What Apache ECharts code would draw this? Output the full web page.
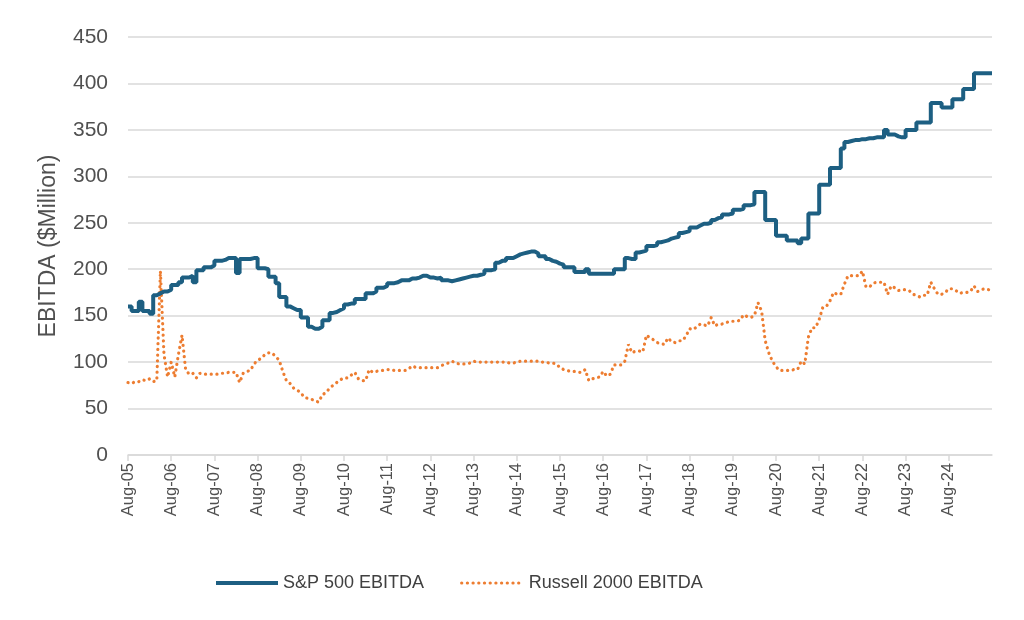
<!DOCTYPE html>
<html>
<head>
<meta charset="utf-8">
<script src="https://cdn.jsdelivr.net/npm/echarts@6/dist/echarts.min.js"></script>
<style>html,body{margin:0;padding:0;background:#fff}#c{width:1024px;height:620px}</style>
</head>
<body>
<div id="c"></div>
<script>
// Monthly categories Aug-05 .. Aug-25
const monthNames = ['Jan','Feb','Mar','Apr','May','Jun','Jul','Aug','Sep','Oct','Nov','Dec'];
const categories = [];
for (let i = 0; i <= 240; i++) {
  const mi = (7 + i) % 12;
  const yy = 5 + Math.floor((7 + i) / 12);
  categories.push(monthNames[mi] + '-' + String(yy).padStart(2, '0'));
}

const sp500 = [
  160,155,155,165,155,155,152,172,174,176,176,178,
  183,183,186,191,191,193,186,199,199,202,202,204,
  209,209,210,212,212,212,196,211,211,211,212,212,
  201,201,200,192,192,185,170,170,160,158,156,156,
  148,148,138,136,136,138,145,145,153,154,156,158,
  162,163,163,168,168,168,174,174,176,180,180,182,
  185,185,186,188,188,188,190,190,191,193,193,191,
  191,190,191,188,188,187,188,189,190,191,192,193,
  193,194,195,199,199,200,207,209,209,212,212,214,
  216,217,218,219,219,217,214,214,211,209,208,206,
  205,202,202,202,197,197,197,200,195,195,195,195,
  195,195,195,200,200,200,212,211,211,218,219,220,
  225,225,226,229,230,231,233,234,235,239,240,241,
  245,245,247,249,249,250,253,255,256,259,259,260,
  264,264,265,269,269,270,283,283,283,253,253,253,
  236,236,236,231,231,231,228,233,233,260,260,260,
  291,291,291,309,309,309,330,337,338,339,339,340,
  340,341,341,342,342,342,350,345,345,343,342,342,
  350,350,350,358,358,358,358,379,379,379,374,374,
  374,383,383,383,394,394,394,411,411,411,411,411,
  411
];

const russell2000 = [
  78,77,79,79,81,80,82,79,80,198,108,84,
  100,84,108,129,92,87,88,83,88,87,87,87,
  87,87,88,88,89,89,89,78,88,90,91,98,
  102,104,108,110,110,106,102,90,80,77,72,70,
  67,62,61,60,58,57,65,67,72,75,78,81,
  83,83,86,89,82,80,80,92,89,90,91,91,
  92,92,91,91,91,91,93,96,94,94,94,94,
  94,94,94,96,98,99,101,99,98,98,98,99,
  101,100,100,100,100,100,100,100,100,100,99,99,
  100,101,101,101,101,101,101,100,100,99,99,98,
  94,92,91,90,90,89,89,92,80,82,83,84,
  90,85,87,97,97,97,101,119,110,112,112,111,
  129,126,124,121,120,119,126,122,121,123,123,128,
  136,135,138,141,140,139,148,139,141,141,142,144,
  144,144,145,151,149,148,150,164,155,123,110,101,
  95,91,91,91,91,92,92,101,98,127,137,137,
  146,159,160,166,175,173,173,184,193,193,193,193,
  198,181,181,185,186,186,186,173,182,180,177,178,
  178,177,173,172,170,172,172,186,179,173,173,175,
  179,179,177,174,175,175,176,182,176,178,179,178,
  177
];

const seriesNames = ['S&P 500 EBITDA', 'Russell 2000 EBITDA'];
const yTicks = { min: 0, max: 450, interval: 50 };
const FONT = '"Liberation Sans", Arial, sans-serif';
const yearTick = (i) => i % 12 === 0 && i < 240;

const chart = echarts.init(document.getElementById('c'), null, { renderer: 'canvas' });
chart.setOption({
  animation: false,
  backgroundColor: '#ffffff',
  textStyle: { fontFamily: FONT },
  grid: { left: 128, right: 32, top: 37, bottom: 165 },
  legend: {
    left: 209, top: 569,
    itemWidth: 62, itemHeight: 14, itemGap: 36,
    itemStyle: { opacity: 0 },
    textStyle: { fontSize: 18, color: '#404040', fontFamily: FONT },
    data: [
      { name: seriesNames[0], lineStyle: { width: 4 } },
      { name: seriesNames[1], lineStyle: { width: 3.2 } }
    ]
  },
  xAxis: {
    type: 'category',
    boundaryGap: false,
    data: categories,
    axisLine: { lineStyle: { color: '#d9d9d9', width: 1.5 } },
    axisTick: { show: true, interval: yearTick, length: 6, lineStyle: { color: '#d9d9d9', width: 1.5 } },
    axisLabel: { interval: yearTick, rotate: 90, fontSize: 16.5, color: '#505050', margin: 8, fontFamily: FONT },
    splitLine: { show: false }
  },
  yAxis: {
    type: 'value',
    min: yTicks.min, max: yTicks.max, interval: yTicks.interval,
    name: 'EBITDA ($Million)',
    nameLocation: 'middle',
    nameGap: 68,
    nameTextStyle: { fontSize: 23, color: '#505050', fontFamily: FONT },
    axisLine: { show: false },
    axisTick: { show: false },
    axisLabel: { fontSize: 21, color: '#505050', margin: 20, fontFamily: FONT },
    splitLine: { lineStyle: { color: '#d9d9d9', width: 1.5 } }
  },
  series: [
    {
      name: seriesNames[0],
      type: 'line',
      step: 'end',
      data: sp500,
      symbol: 'none',
      lineStyle: { color: '#1d5f82', width: 4 },
      itemStyle: { color: '#1d5f82' },
      z: 3
    },
    {
      name: seriesNames[1],
      type: 'line',
      data: russell2000,
      symbol: 'none',
      lineStyle: { color: '#ed7d31', width: 3.2, type: [0.1, 5.6], cap: 'round' },
      itemStyle: { color: '#ed7d31' },
      z: 2
    }
  ]
});
</script>
</body>
</html>
